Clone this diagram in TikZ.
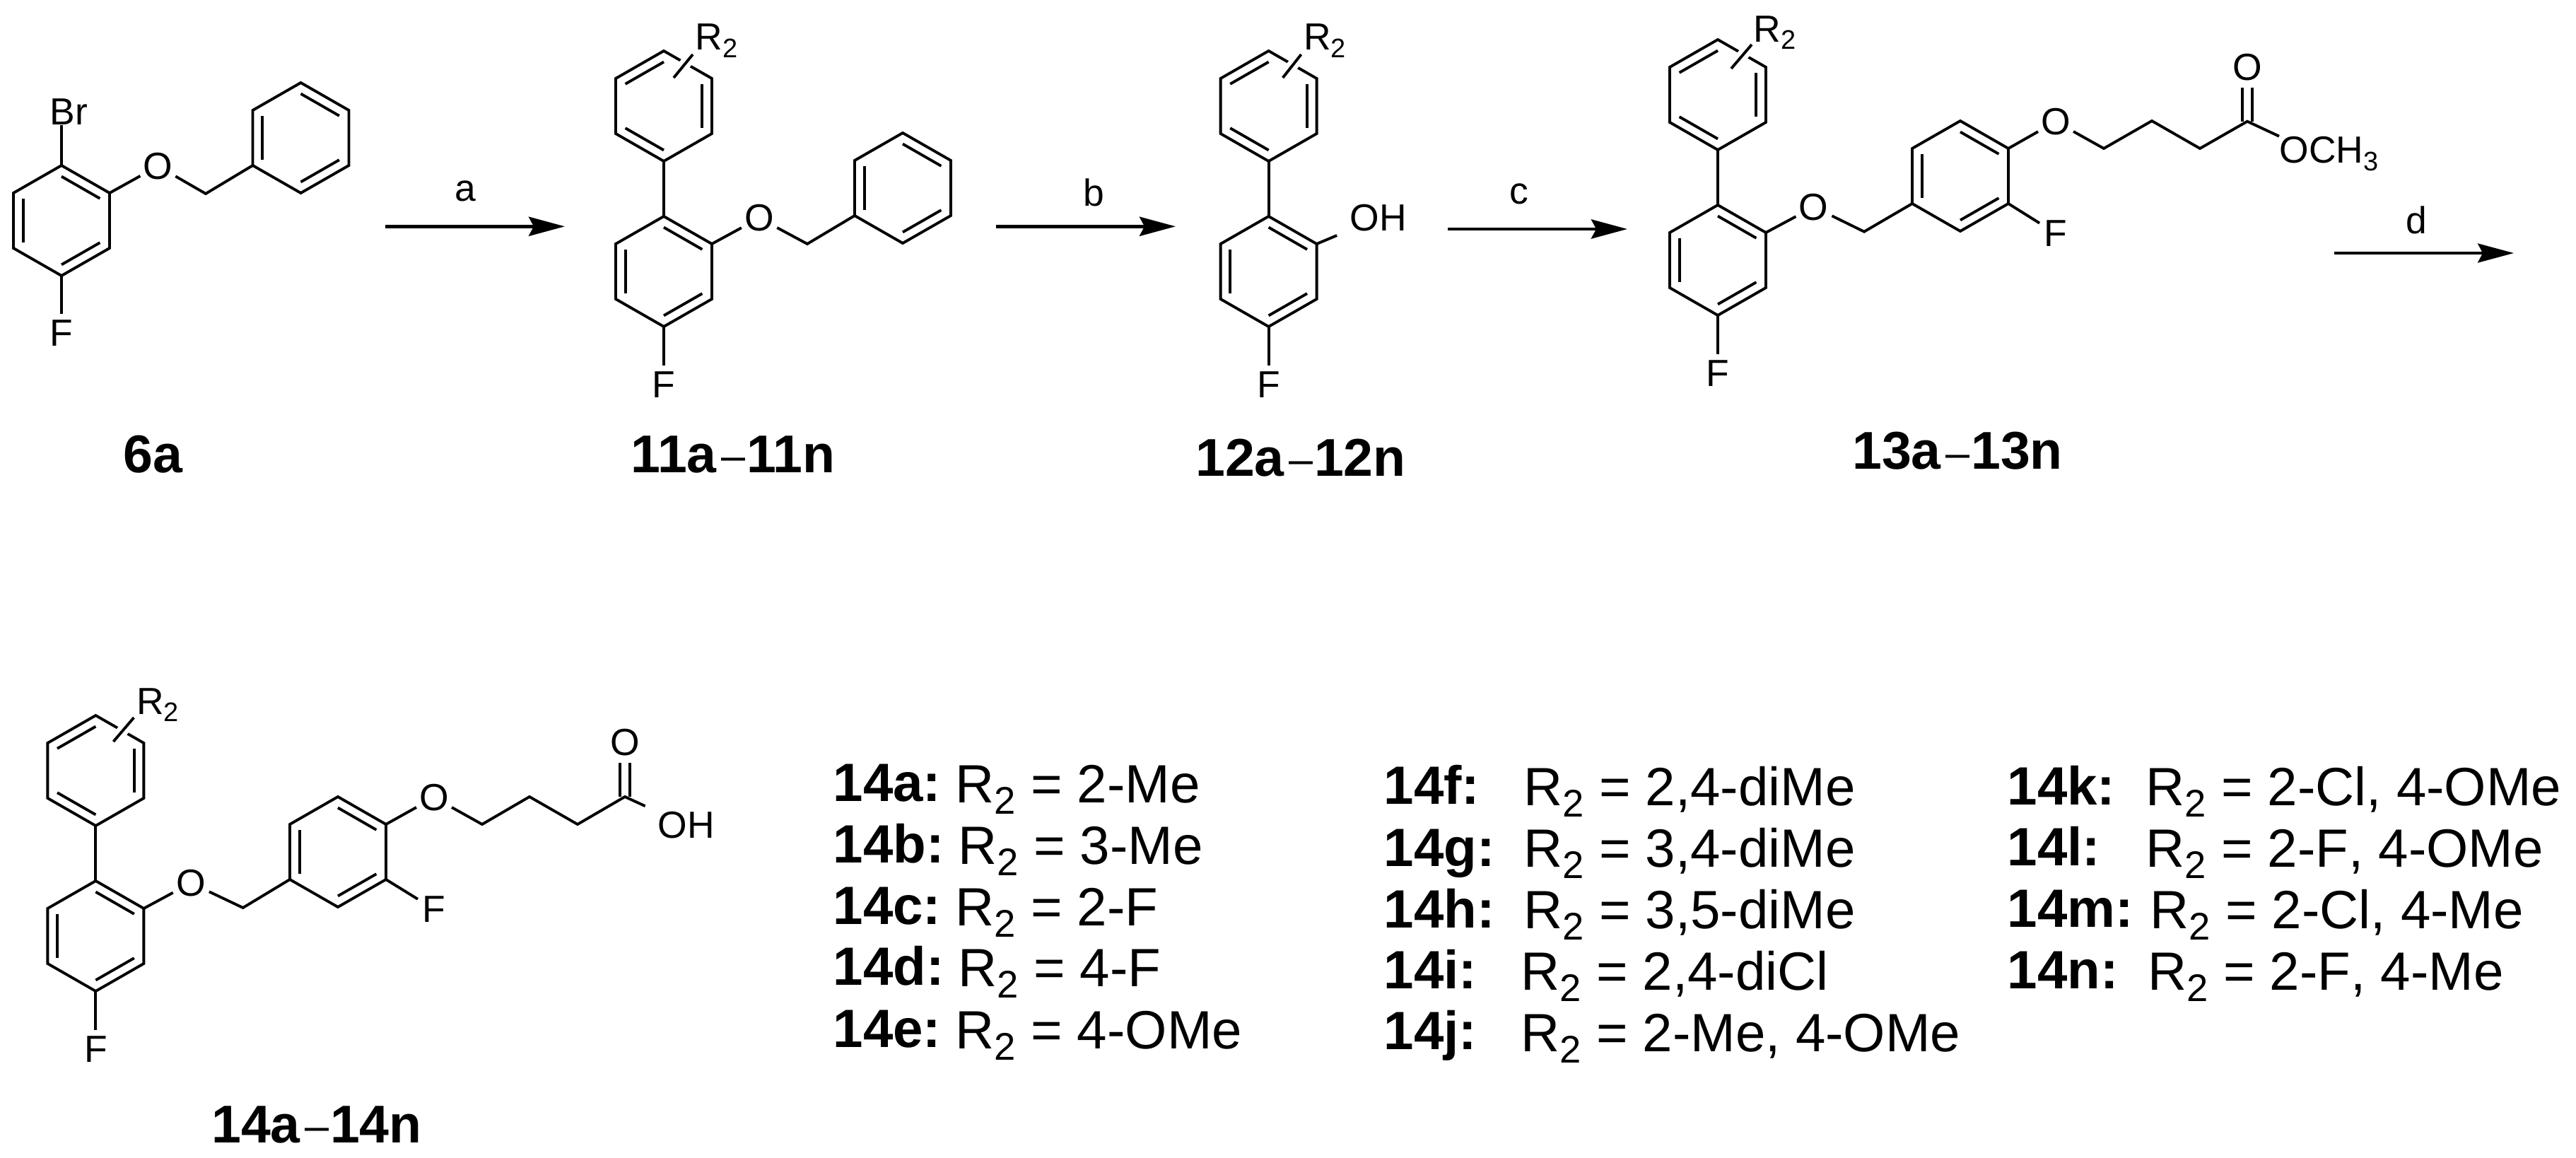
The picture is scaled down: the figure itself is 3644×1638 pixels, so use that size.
\documentclass[tikz,border=0pt]{standalone}
\usepackage{fontspec}
\setmainfont{Liberation Sans}
\usetikzlibrary{calc,arrows.meta}
\tikzset{
  bond/.style={line width=1.1pt,line join=miter},
  cobond/.style={line width=1.1pt,double,double distance=3pt},
  stick/.style={bond,preaction={draw,white,line width=4.6pt}},
  rxn/.style={-{Stealth[length=14.5pt,width=7.7pt,inset=2pt]}},
  atom/.style={circle,inner sep=0pt,minimum size=15pt,font=\fontsize{15.2}{16}\selectfont},
  grp/.style={inner sep=1pt,font=\fontsize{15.2}{16}\selectfont},
  cmpd/.style={inner sep=0pt,anchor=base,font=\fontsize{21.4}{24}\selectfont\bfseries},
  item/.style={inner sep=0pt,anchor=base west,font=\fontsize{21.7}{24}\selectfont}
}
\newcommand{\subA}[1]{\raisebox{-3.1pt}{\fontsize{10.8}{11}\selectfont #1}}
\newcommand{\subL}[1]{\raisebox{-4.8pt}{\fontsize{15.5}{16}\selectfont #1}}
\newcommand{\rng}{\kern1.8pt\raisebox{.7pt}{\fontsize{17.4}{18}\selectfont\mdseries –}\kern.6pt}
\newcommand{\aryl}[4]{%
  \coordinate (#1) at (#2,#3);
  \foreach \v/\a/\b in {1/0/-78,2/68/-39,3/68/39,4/0/78,5/-68/39,6/-68/-39}
    \coordinate (#1\v) at (#2+\a,#3+\b);
  \draw[bond] (#11) -- (#12) -- (#13) -- (#14) -- (#15) -- (#16) -- cycle;
  \foreach \i/\j in {#4}
    \draw[bond] ($(#1\i)!0.2!(#1)$) -- ($(#1\j)!0.2!(#1)$);
}
\begin{document}
\begin{tikzpicture}[x=0.1mm,y=-0.1mm]
\useasboundingbox (0,0) rectangle (3644,1638);

\aryl{r6a}{87}{312}{1/2,3/4,5/6}
\aryl{r6b}{425.5}{195}{1/2,3/4,5/6}
\node[grp,inner sep=0pt] (br6) at (97.5,158) {Br};
\node[atom] (o6) at (223.5,235) {O};
\node[atom] (f6) at (87,471) {F};
\coordinate (ch6) at (291,274);
\draw[bond] (r6a1) -- (r6a1 |- br6.south);
\draw[bond] (r6a4) -- (f6);
\draw[bond] (r6a2) -- (o6) -- (ch6) -- (r6b5);

\aryl{r11a}{939}{150}{6/1,2/3,4/5}
\aryl{r11b}{939}{384}{1/2,3/4,5/6}
\aryl{r11c}{1277}{266}{1/2,3/4,5/6}
\node[atom] (o11) at (1074,308.5) {O};
\node[atom] (f11) at (939,544) {F};
\coordinate (ch11) at (1142,345);
\draw[bond] (r11a4) -- (r11b1);
\draw[bond] (r11b4) -- (f11);
\draw[bond] (r11b2) -- (o11) -- (ch11) -- (r11c5);

\aryl{r12a}{1794.6}{150}{6/1,2/3,4/5}
\aryl{r12b}{1794.6}{384}{1/2,3/4,5/6}
\node[grp,inner sep=5pt] (oh12) at (1949.5,308.5) {OH};
\node[atom] (f12) at (1794.6,544) {F};
\draw[bond] (r12a4) -- (r12b1);
\draw[bond] (r12b4) -- (f12);
\draw[bond] (r12b2) -- (oh12);

\aryl{r13a}{2430}{134}{6/1,2/3,4/5}
\aryl{r13b}{2430}{368}{1/2,3/4,5/6}
\aryl{r13c}{2773}{249}{1/2,3/4,5/6}
\node[atom] (o13a) at (2565.7,292.7) {O};
\node[atom] (f13a) at (2430,528) {F};
\node[atom] (f13b) at (2908,330) {F};
\node[atom] (o13b) at (2908,172) {O};
\node[atom] (o13c) at (3179,95) {O};
\node[grp,inner sep=0pt,anchor=base west] (ome13) at (3224,230.7) {OCH\subA{3}};
\coordinate (ch13) at (2637,327.7);
\coordinate (c13a) at (2976,210);
\coordinate (c13b) at (3044,171);
\coordinate (c13c) at (3112,210);
\coordinate (c13d) at (3179,171.7);
\draw[cobond] (c13d) -- (o13c);
\draw[bond] (r13a4) -- (r13b1);
\draw[bond] (r13b4) -- (f13a);
\draw[bond] (r13b2) -- (o13a) -- (ch13) -- (r13c5);
\draw[bond] (r13c3) -- (f13b);
\draw[bond] (r13c2) -- (o13b) -- (c13a) -- (c13b) -- (c13c) -- (c13d) -- (ome13.north west);

\aryl{r14a}{135.4}{1090}{6/1,2/3,4/5}
\aryl{r14b}{135.4}{1324}{1/2,3/4,5/6}
\aryl{r14c}{478}{1205}{1/2,3/4,5/6}
\node[atom] (o14a) at (270,1249) {O};
\node[atom] (f14a) at (135.4,1484) {F};
\node[atom] (f14b) at (614,1286) {F};
\node[atom] (o14b) at (614,1128) {O};
\node[atom] (o14c) at (884,1050) {O};
\node[grp,inner sep=5pt] (oh14) at (971,1167) {OH};
\coordinate (ch14) at (343.7,1284);
\coordinate (c14a) at (682,1166);
\coordinate (c14b) at (749,1127);
\coordinate (c14c) at (817,1166);
\coordinate (c14d) at (884,1127);
\draw[cobond] (c14d) -- (o14c);
\draw[bond] (r14a4) -- (r14b1);
\draw[bond] (r14b4) -- (f14a);
\draw[bond] (r14b2) -- (o14a) -- (ch14) -- (r14c5);
\draw[bond] (r14c3) -- (f14b);
\draw[bond] (r14c2) -- (o14b) -- (c14a) -- (c14b) -- (c14c) -- (c14d) -- (oh14);

\foreach \ring/\sa/\sb/\ea/\eb/\lx/\ly in {r11a/14/-40/41/-73/44/-79,r12a/20/-40/46/-73/49/-79,r13a/19/-37/48/-71/50/-75,r14a/25/-41/54/-75/57/-80}{
  \draw[stick] ($(\ring)+(\sa,\sb)$) -- ($(\ring)+(\ea,\eb)$);
  \node[grp,inner sep=0pt,anchor=base west] (sub\ring) at ($(\ring)+(\lx,\ly)$) {R\subA{2}};
}

\foreach \step/\xa/\xb/\y/\lx/\ly/\w in {a/545/799/320.3/658/284/1.42pt,b/1409/1663/320.3/1547/291/1.42pt,c/2048/2302/324/2149/288/1.42pt,d/3302/3556/358/3418/330/1.05pt}{
  \coordinate (from\step) at (\xa,\y);
  \coordinate (to\step) at (\xb,\y);
  \draw[rxn,line width=\w] (from\step) -- (to\step);
  \node[grp,inner sep=0pt,anchor=base] (lab\step) at (\lx,\ly) {\step};
}

\node[cmpd] (n6a) at (216.6,668) {6a};
\node[cmpd] (n11) at (1037,668) {11a\rng 11n};
\node[cmpd] (n12) at (1840,673) {12a\rng 12n};
\node[cmpd] (n13) at (2769,663.5) {13a\rng 13n};
\node[cmpd] (n14) at (448,1616) {14a\rng 14n};

\foreach \id/\xi/\yi/\xr/\yr/\val in {
  14a/1178/1133/1351/1135/{2-Me},
  14b/1178/1220/1355/1222/{3-Me},
  14c/1178/1307/1351/1309/{2-F},
  14d/1178/1393/1355/1395/{4-F},
  14e/1178/1481/1351/1483/{4-OMe},
  14f/1957/1137/2155/1139/{2,4-diMe},
  14g/1957/1225/2155/1226/{3,4-diMe},
  14h/1957/1312/2155/1313/{3,5-diMe},
  14i/1957/1398/2151/1400/{2,4-diCl},
  14j/1957/1484/2151/1487/{2-Me, 4-OMe},
  14k/2839/1138/3035/1139/{2-Cl, 4-OMe},
  14l/2839/1224/3035/1226/{2-F\kern0pt, 4-OMe},
  14m/2839/1311/3041/1313/{2-Cl, 4-Me},
  14n/2839/1398/3038/1400/{2-F\kern0pt, 4-Me}}{
  \node[item,font=\fontsize{21.7}{24}\selectfont\bfseries] (id\id) at (\xi,\yi) {\id:};
  \node[item] (val\id) at (\xr,\yr) {R\subL{2} = \val};
}
\end{tikzpicture}
\end{document}
